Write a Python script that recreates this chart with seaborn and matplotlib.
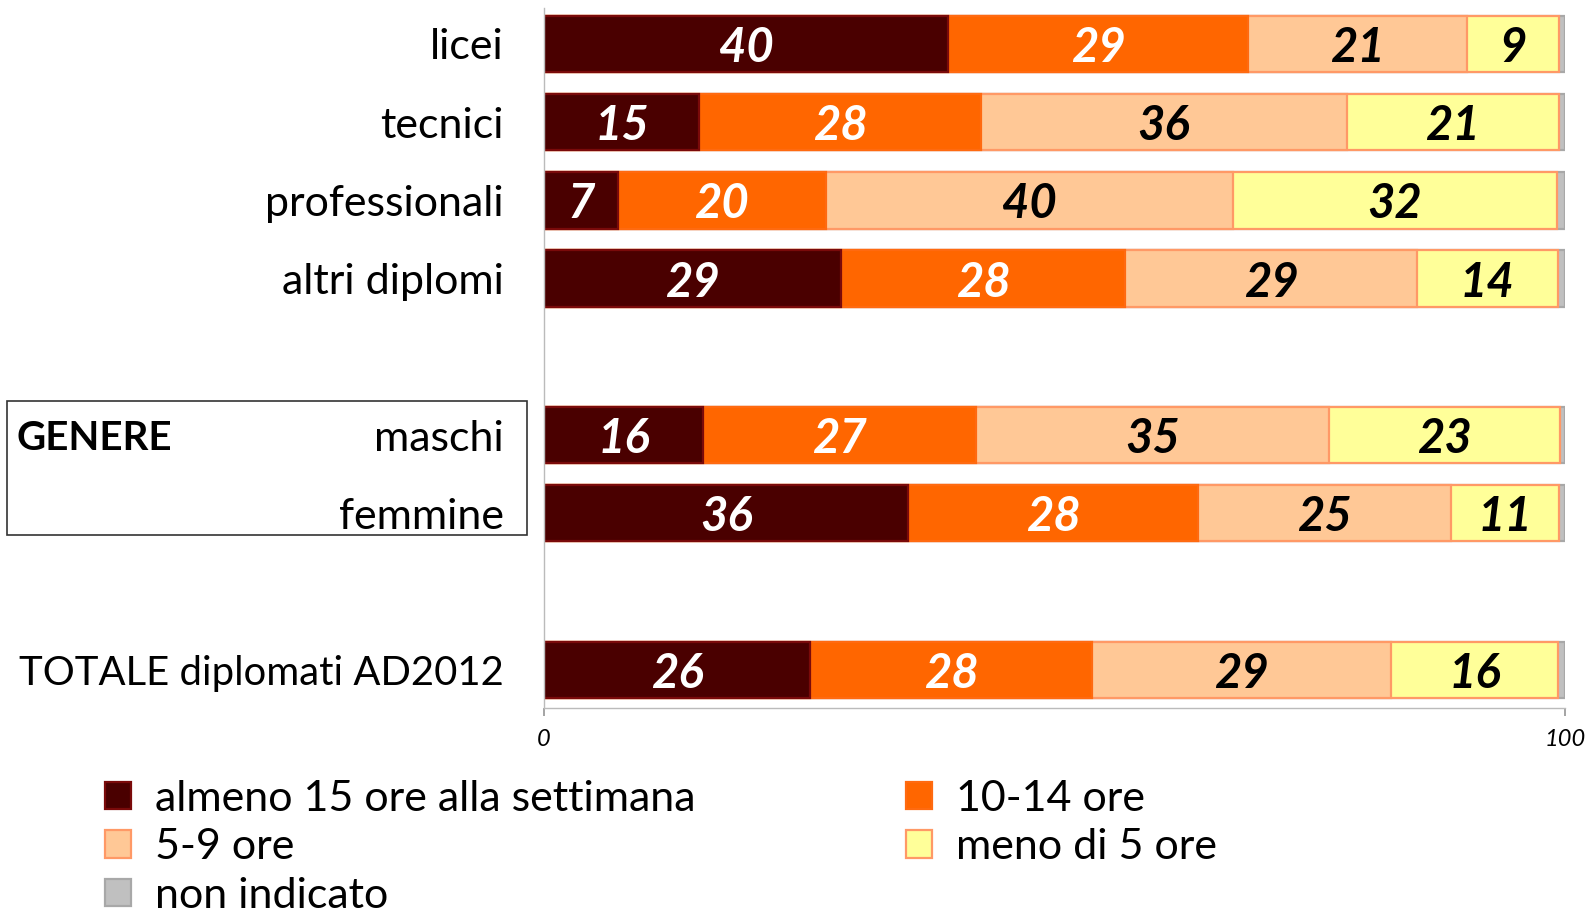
import matplotlib
matplotlib.use("Agg")
import matplotlib.pyplot as plt
import matplotlib.transforms as mtrans
from matplotlib.patches import Patch, Rectangle
import seaborn as sns
import pandas as pd
import numpy as np

# ---------------- data ----------------
categories = ["licei", "tecnici", "professionali", "altri diplomi",
              "maschi", "femmine", "TOTALE diplomati AD2012"]
almeno15 = [39.6, 15.2, 7.2, 29.1, 15.6, 35.7, 26.1]
ore10_14 = [29.4, 27.6, 20.4, 27.8, 26.7, 28.4, 27.6]
ore5_9 = [21.4, 35.8, 39.9, 28.6, 34.6, 24.7, 29.3]
meno5 = [9.0, 20.8, 31.7, 13.8, 22.6, 10.6, 16.3]
non_ind = [0.6, 0.6, 0.8, 0.7, 0.5, 0.6, 0.7]
series_names = ["almeno 15 ore alla settimana", "10-14 ore", "5-9 ore",
                "meno di 5 ore", "non indicato"]
x_ticks = [0, 100]

# ---------------- style ----------------
face = ["#4A0000", "#FF6600", "#FFC896", "#FFFF99", "#C0C0C0"]
edge = ["#7A0A0A", "#FF6A10", "#FF9966", "#FF9966", "#A8A8A8"]
txtcol = ["white", "white", "black", "black", "black"]

sns.set_theme(style="white")
plt.rcParams["font.family"] = ["Lato", "DejaVu Sans"]
plt.rcParams["text.color"] = "black"
plt.rcParams["xtick.color"] = "black"
plt.rcParams["ytick.color"] = "black"
plt.rcParams["axes.labelcolor"] = "black"

series = [almeno15, ore10_14, ore5_9, meno5, non_ind]
cum = np.cumsum(np.array(series), axis=0)

order = ["licei", "tecnici", "professionali", "altri diplomi", " ",
         "maschi", "femmine", "  ", "TOTALE diplomati AD2012"]

fig = plt.figure(figsize=(15.9, 9.16), dpi=100)
ax = fig.add_axes([544 / 1590, 1 - 708 / 916, (1565 - 544) / 1590, (708 - 8) / 916])

# stacked bars: draw cumulative totals from the largest down
for k in range(len(series) - 1, -1, -1):
    d = pd.DataFrame({"cat": categories, "val": cum[k]})
    sns.barplot(data=d, x="val", y="cat", order=order, orient="h",
                color=face[k], edgecolor=edge[k], linewidth=1.6,
                width=0.72, saturation=1, ax=ax, errorbar=None)

# value labels
for k in range(4):
    for i, cat in enumerate(categories):
        v = series[k][i]
        ctr = cum[k][i] - v / 2
        ax.text(ctr, order.index(cat), f"{round(v)}", ha="center",
                va="center_baseline", fontsize=34, fontweight="bold",
                fontstyle="italic", color=txtcol[k])

ax.set_xlim(0, 100)
ax.set_ylim(8.49, -0.46)
ax.set_xlabel("")
ax.set_ylabel("")
ax.set_xticks(x_ticks)
ax.set_xticklabels([str(t) for t in x_ticks], fontsize=17, fontstyle="italic")
ax.tick_params(axis="x", length=6, color="#999999", pad=9, direction="out")
ax.tick_params(axis="y", length=0, pad=29, labelsize=31)
ax.set_yticks(range(len(order)))
ax.set_yticklabels(order)
for lab in ax.get_yticklabels():
    if lab.get_text().startswith("TOTALE"):
        lab.set_fontsize(28.8)
for s in ["top", "right"]:
    ax.spines[s].set_visible(False)
for s in ["left", "bottom"]:
    ax.spines[s].set_color("#BBBBBB")
    ax.spines[s].set_linewidth(1.0)
ax.xaxis.set_ticks_position("bottom")
ax.grid(False)

# GENERE box
bt = mtrans.blended_transform_factory(fig.transFigure, ax.transData)
fig.patches.append(Rectangle((7 / 1590, 4.56), (527 - 7) / 1590, 6.28 - 4.56,
                             transform=bt, fill=False, edgecolor="#333333",
                             linewidth=1.2, figure=fig))
fig.text(17 / 1590, 5, "GENERE", transform=bt, fontsize=29, fontweight="bold",
         ha="left", va="center_baseline")

# legend
handles = [Patch(facecolor=face[k], edgecolor=edge[k], linewidth=1.6, label=series_names[k])
           for k in range(5)]
hord = [0, 2, 4, 1, 3]
fig.legend([handles[k] for k in hord], [series_names[k] for k in hord],
           ncol=2, loc="upper left", bbox_to_anchor=(105 / 1590, 1 - 780 / 916),
           frameon=False, fontsize=31, handlelength=0.6, handleheight=0.6,
           handletextpad=0.55, columnspacing=4.9, labelspacing=0.24,
           borderpad=0, borderaxespad=0)

fig.savefig("out.png", dpi=100)
